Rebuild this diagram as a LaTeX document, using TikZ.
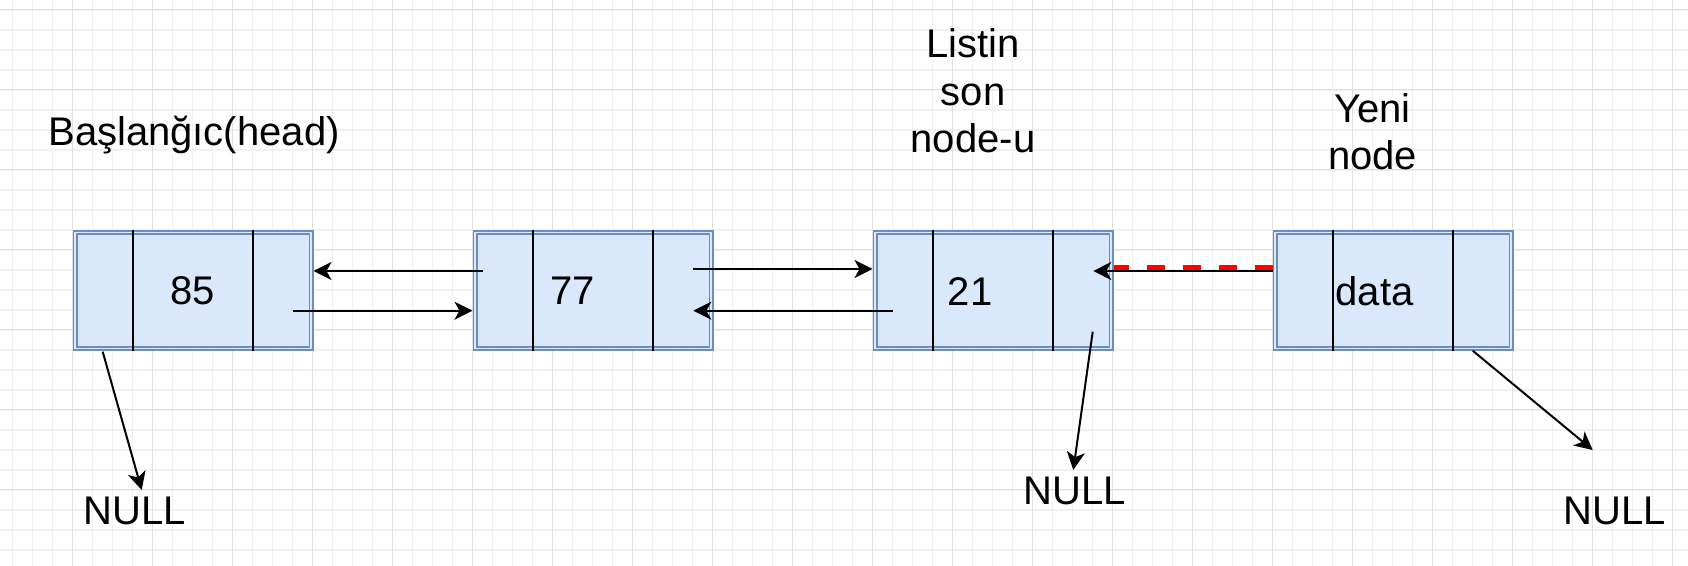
\documentclass[tikz,border=0pt]{standalone}
\usepackage{fontspec}
\setmainfont{Liberation Sans}
\usetikzlibrary{arrows.meta,calc}
\definecolor{boxfill}{HTML}{DAE8FC}
\definecolor{boxline}{HTML}{6C8EBF}
\definecolor{gridmajor}{HTML}{E0E0E0}
\definecolor{gridminor}{HTML}{F1F1F1}
\definecolor{dashred}{HTML}{FF0000}
\begin{document}
\begin{tikzpicture}[x=0.5pt,y=-0.5pt,
  listbox/.style={draw=boxline, double=boxfill, line width=0.95pt, double distance=0.6pt, fill=boxfill, minimum width=118pt, minimum height=58pt, inner sep=0pt, outer sep=1.25pt},
  divider/.style={draw=black, line width=0.95pt},
  arr/.style={draw=black, line width=1pt, -{Stealth[length=9pt,width=9pt,inset=2.5pt]}},
  lbl/.style={font=\fontsize{20pt}{23.75pt}\selectfont, inner sep=0pt, text=black},
  newlink/.style={draw=dashred, line width=2.1pt, dash pattern=on 9pt off 9pt},
  minorline/.style={draw=gridminor, line width=0.6pt},
  majorline/.style={draw=gridmajor, line width=0.5pt}
]
\useasboundingbox (0,0) rectangle (1688,566);
\fill[white] (0,0) rectangle (1688,566);
% grid
\foreach \i in {0,...,83} \draw[minorline] ({12.7+20*\i},0) -- ({12.7+20*\i},566);
\foreach \j in {0,...,27} \draw[minorline] (0,{10+20*\j}) -- (1688,{10+20*\j});
\foreach \i in {0,...,20} \draw[majorline] ({72.7+80*\i},0) -- ({72.7+80*\i},566);
\foreach \j in {0,...,6} \draw[majorline] (0,{10+80*\j}) -- (1688,{10+80*\j});
% boxes
\node[listbox] (b1) at (193,290.3) {};
\node[listbox] (b2) at (593,290.3) {};
\node[listbox] (b3) at (993,290.3) {};
\node[listbox] (b4) at (1393,290.3) {};
\foreach \b in {b1,b2,b3,b4}{
  \draw[divider] ([xshift=-30.15pt]\b.north) -- ([xshift=-30.15pt]\b.south);
  \draw[divider] ([xshift=30pt]\b.north) -- ([xshift=30pt]\b.south);
}
% texts
\node[lbl, anchor=base] (head) at (194,145.7) {Başlanğıc(head)};
\node[lbl, align=center] (last) at (973,91.2) {Listin\\son\\node-u};
\node[lbl, align=center] (new) at (1372.5,131.6) {Yeni\\node};
\node[lbl, anchor=base] (v85) at (193,305) {85};
\node[lbl, anchor=base] (v77) at (573,305) {77};
\node[lbl, anchor=base] (v21) at (970,306) {21};
\node[lbl, anchor=base] (vdata) at (1374.5,306) {data};
\node[lbl, anchor=base] (null1) at (135,525) {NULL};
\node[lbl, anchor=base] (null2) at (1075,505) {NULL};
\node[lbl, anchor=base] (null3) at (1615,525) {NULL};
% connectors
\coordinate (a1s) at (102.7,351.7);
\coordinate (a1e) at (141.7,490);
\draw[arr] (a1s) -- (a1e);
\coordinate (a2s) at (482.7,271);
\draw[arr] (a2s) -- (a2s -| b1.east);
\coordinate (a3s) at (292.7,310.7);
\draw[arr] (a3s) -- (a3s -| b2.west);
\coordinate (a4s) at (692.7,269);
\draw[arr] (a4s) -- (a4s -| b3.west);
\coordinate (a5s) at (892.7,310.7);
\coordinate (a5e) at (693.3,310.7);
\draw[arr] (a5s) -- (a5e);
\coordinate (a6e) at (1093.3,271);
\draw[arr] (a6e -| b4.west) -- (a6e);
\coordinate (rl) at (0,267.5);
\draw[newlink] (rl -| b4.west) -- (rl -| b3.east);
\coordinate (a7s) at (1092.7,331.7);
\coordinate (a7e) at (1073.3,470);
\draw[arr] (a7s) -- (a7e);
\coordinate (a8s) at (1472.7,350.7);
\coordinate (a8e) at (1592.7,450);
\draw[arr] (a8s) -- (a8e);
\end{tikzpicture}
\end{document}
